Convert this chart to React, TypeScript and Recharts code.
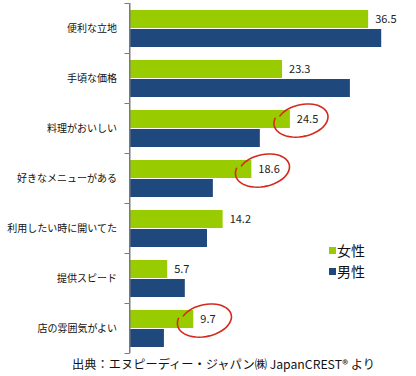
import React from 'react';
import { BarChart, Bar, XAxis, YAxis, LabelList } from 'recharts';

const categories = ['便利な立地', '手頃な価格', '料理がおいしい', '好きなメニューがある', '利用したい時に開いてた', '提供スピード', '店の雰囲気がよい'];
const femaleValues = [36.5, 23.3, 24.5, 18.6, 14.2, 5.7, 9.7];
const maleValues = [38.5, 33.7, 19.9, 12.7, 11.8, 8.4, 5.2];
const circled = ['料理がおいしい', '好きなメニューがある', '店の雰囲気がよい'];
const seriesNames = ['女性', '男性'];
const sourceText = '出典：エヌピーディー・ジャパン㈱ JapanCREST® より';

const GREEN = '#99cc00';
const BLUE = '#1f497d';
const RED = '#d42a1e';
const AXIS = '#7a7a7a';
const FONT = '"Noto Sans CJK JP", "Noto Sans", sans-serif';
const CHART_W = 416;
const CHART_H = 376;
const MARGIN = { top: 3, right: 25, bottom: 23, left: 0 };
const TICK_SIZE = 6;
const TICK_MARGIN = 7;
const CAT_GAP = 7;

const data = categories.map((c, i) => ({
  name: c,
  female: femaleValues[i],
  male: maleValues[i],
  circled: circled.includes(c),
}));

function ringPath(cx: number, cy: number, rx: number, ry: number, rotDeg: number) {
  const phi = (rotDeg * Math.PI) / 180;
  const start = (215 * Math.PI) / 180;
  const sweep = (350 * Math.PI) / 180;
  const n = 48;
  let d = '';
  for (let k = 0; k <= n; k++) {
    const t = start + (sweep * k) / n;
    const r = 1 + 0.14 * (k / n);
    const ex = r * rx * Math.cos(t);
    const ey = r * ry * Math.sin(t);
    const px = cx + ex * Math.cos(phi) - ey * Math.sin(phi);
    const py = cy + ex * Math.sin(phi) + ey * Math.cos(phi);
    d += (k === 0 ? 'M' : 'L') + px.toFixed(1) + ' ' + py.toFixed(1) + ' ';
  }
  return d;
}

const FemaleLabel = (props: any) => {
  const { x, y, width, height, value, index } = props;
  const endX = Number(x) + Number(width);
  const cy = Number(y) + Number(height) / 2;
  const hl = data[index] && data[index].circled;
  return (
    <g>
      <text x={endX + 7} y={cy} dy="0.35em" fontSize={11} fill="#222" fontFamily={FONT}>
        {value}
      </text>
      {hl && (
        <path d={ringPath(endX + 12, cy + 1, 25, 15, -12)} fill="none" stroke={RED} strokeWidth={1.6} strokeLinecap="round" />
      )}
    </g>
  );
};

// category label plus the axis segment and boundary ticks of its band
const CatTick = (props: any) => {
  const { x, y, payload, index } = props;
  const plotH = CHART_H - MARGIN.top - MARGIN.bottom;
  const half = plotH / categories.length / 2;
  const axisX = Math.floor(Number(x) + TICK_SIZE + TICK_MARGIN) - 0.5;
  const yy = Number(y);
  const top = Math.round(yy - half) + 0.5;
  const bottom = Math.round(yy + half) + 0.5;
  const isLast = index === categories.length - 1;
  return (
    <g>
      <path d={`M${axisX},${top}V${bottom}`} stroke={AXIS} strokeWidth={1} fill="none" />
      <path d={`M${axisX - 5},${top}H${axisX}`} stroke={AXIS} strokeWidth={1} fill="none" />
      {isLast && <path d={`M${axisX - 5},${bottom}H${axisX}`} stroke={AXIS} strokeWidth={1} fill="none" />}
      <text x={x} y={y} dy="0.35em" textAnchor="end" fontSize={10} fill="#111" fontFamily={FONT}>
        {payload.value}
      </text>
    </g>
  );
};

export default function App() {
  return (
    <div style={{ position: 'absolute', left: 0, top: 0, width: CHART_W, height: CHART_H, background: '#fff', fontFamily: FONT }}>
      <BarChart
        width={CHART_W}
        height={CHART_H}
        data={data}
        layout="vertical"
        margin={MARGIN}
        barCategoryGap={CAT_GAP}
        barGap={1}
      >
        <XAxis type="number" domain={[0, 40]} hide />
        <YAxis
          type="category"
          dataKey="name"
          width={130}
          tickLine={false}
          tickSize={TICK_SIZE}
          tickMargin={TICK_MARGIN}
          axisLine={{ stroke: AXIS, strokeWidth: 1 }}
          tick={<CatTick />}
          interval={0}
        />
        <Bar dataKey="female" name={seriesNames[0]} fill={GREEN} isAnimationActive={false}>
          <LabelList dataKey="female" content={<FemaleLabel />} />
        </Bar>
        <Bar dataKey="male" name={seriesNames[1]} fill={BLUE} isAnimationActive={false} />
      </BarChart>
      <div style={{ position: 'absolute', left: 329, top: 240, fontSize: 14, lineHeight: '21px', color: '#111' }}>
        {seriesNames.map((s, i) => (
          <div key={s} style={{ display: 'flex', alignItems: 'center' }}>
            <span style={{ display: 'inline-block', width: 7, height: 7, background: i === 0 ? GREEN : BLUE, marginRight: 1 }} />
            <span>{s}</span>
          </div>
        ))}
      </div>
      <svg style={{ position: 'absolute', left: 0, top: 352 }} width={416} height={24}>
        <text x={72} y={13} dy="0.35em" fontSize={12} fill="#111" fontFamily={FONT} textLength={303} lengthAdjust="spacingAndGlyphs">
          {sourceText}
        </text>
      </svg>
    </div>
  );
}
